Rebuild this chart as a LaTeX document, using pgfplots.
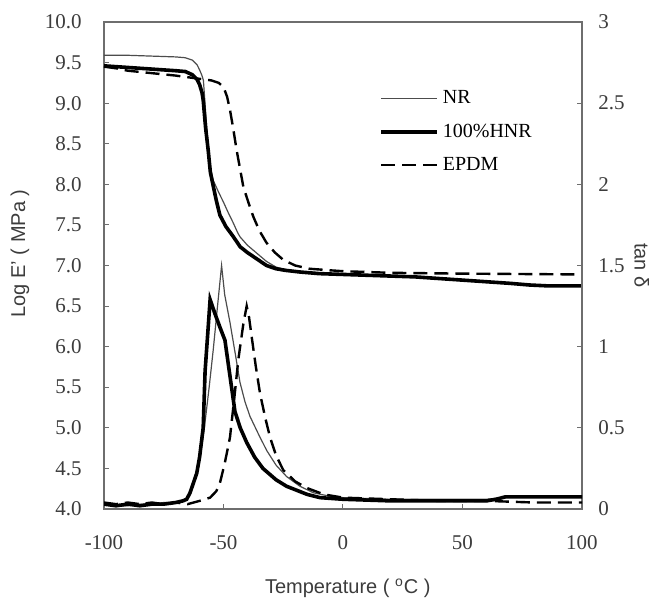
\documentclass[border=0pt]{standalone}
\usepackage{fontspec}
\setmainfont{Liberation Serif}
\setsansfont{Liberation Sans}
\usepackage{pgfplots}
\pgfplotsset{compat=1.18}
\definecolor{axgray}{RGB}{110,110,110}
\definecolor{lblgray}{RGB}{60,60,60}
\begin{document}
\begin{tikzpicture}
\useasboundingbox (-52pt,-46pt) rectangle (275pt,254.5pt);
\pgfplotsset{
  base/.style={
    scale only axis, width=239pt, height=243.5pt,
    at={(0,0)}, anchor=south west,
    xmin=-100, xmax=100,
    axis line style={axgray, line width=0.6pt},
    tick style={axgray, line width=0.5pt},
    major tick length=2.5pt,
    tick align=inside,
    /pgf/number format/assume math mode=true,
    tick label style={font=\fontsize{10.5}{12}\selectfont, text=lblgray, inner sep=0pt},
  }
}
\begin{axis}[base,
  ymin=4, ymax=10,
  ytick={4,4.5,...,10},
  xtick={-100,-50,0,50,100},
  xtick pos=bottom, ytick pos=left,
  yticklabel style={/pgf/number format/fixed, /pgf/number format/fixed zerofill, /pgf/number format/precision=1, xshift=-11pt},
  xticklabel style={yshift=-13pt},
  xlabel={\sffamily Temperature ( \textsuperscript{o}C )},
  xlabel style={at={(axis description cs:0.51,0)}, anchor=center, yshift=-39.5pt, font=\fontsize{10}{12}\selectfont, text=lblgray},
  ylabel={\sffamily Log E' ( MPa )},
  ylabel style={at={(axis description cs:-0.176,0.525)}, anchor=center, font=\fontsize{10}{12}\selectfont, text=lblgray},
  legend style={at={(0.575,0.868)}, anchor=north west, draw=none, fill=none,
    font=\fontsize{10}{12}\selectfont, row sep=4.5pt, inner sep=0pt,
    legend cell align=left},
  legend image code/.code={\draw[#1] (0pt,0pt) -- (28pt,0pt);},
]
\addplot[black!70, line width=0.6pt] coordinates {
(-100,9.59) (-90,9.59) (-80,9.58) (-70,9.57) (-66,9.56) (-63,9.53) (-61,9.47) (-60,9.41) (-59,9.34) (-58.4,9.28) (-57.5,8.9) (-56.5,8.5) (-55.6,8.22) (-54.3,8.05) (-52,7.9) (-50,7.78) (-48,7.65) (-46,7.53) (-44,7.40) (-43,7.35) (-40,7.25) (-36,7.15) (-32,7.05) (-28,6.98) (-24,6.95) (-20,6.93) (-10,6.91) (0,6.89) (10,6.88) (20,6.87) (30,6.86) (40,6.84) (50,6.82) (60,6.80) (70,6.78) (80,6.76) (90,6.75) (100,6.75)
};
\addlegendentry{NR}
\addplot[black, line width=1.8pt] coordinates {
(-100,9.46) (-90,9.44) (-80,9.42) (-70,9.40) (-66,9.39) (-63,9.35) (-61,9.29) (-60,9.23) (-59,9.13) (-58.5,9.04) (-57.5,8.7) (-56.4,8.42) (-55.5,8.15) (-54.3,7.98) (-53,7.8) (-51.5,7.62) (-49,7.48) (-46,7.36) (-43,7.23) (-40,7.16) (-36,7.08) (-32,7.0) (-28,6.96) (-24,6.94) (-18,6.92) (-10,6.90) (0,6.89) (10,6.88) (20,6.87) (30,6.86) (40,6.84) (50,6.82) (60,6.80) (70,6.78) (78,6.76) (85,6.75) (100,6.75)
};
\addlegendentry{100\%HNR}
\addplot[black, line width=1.2pt, dash pattern=on 7pt off 3.5pt] coordinates {
(-100,9.45) (-95,9.43) (-90,9.40) (-80,9.37) (-70,9.34) (-60,9.30) (-55,9.28) (-52,9.25) (-50,9.20) (-48.5,9.08) (-47.3,8.92) (-46,8.7) (-44.5,8.42) (-43,8.18) (-41.7,7.97) (-39.5,7.77) (-37.5,7.6) (-35,7.43) (-32,7.28) (-28.5,7.16) (-25,7.07) (-20,7.0) (-14,6.96) (-5,6.94) (0,6.93) (20,6.91) (50,6.9) (100,6.89)
};
\addlegendentry{EPDM}
\end{axis}
\begin{axis}[base,
  ymin=0, ymax=3,
  ytick={0,0.5,...,3},
  axis x line=none,
  axis y line*=right,
  yticklabel style={xshift=8pt},
  ylabel={\sffamily tan δ},
  ylabel style={at={(axis description cs:1.125,0.5)}, anchor=center, rotate=180, font=\fontsize{10}{12}\selectfont, text=lblgray},
]
\addplot[black!70, line width=0.6pt] coordinates {
(-100,0.03) (-95,0.02) (-90,0.02) (-85,0.03) (-80,0.03) (-75,0.04) (-70,0.04) (-67,0.05) (-65,0.07) (-63.5,0.11) (-62.6,0.15) (-61,0.24) (-60,0.30) (-58,0.5) (-56,0.75) (-54.3,0.98) (-52.5,1.25) (-50.8,1.50) (-49.5,1.32) (-47.3,1.15) (-45,0.95) (-43.1,0.78) (-41,0.66) (-38.9,0.57) (-35,0.45) (-31.9,0.36) (-28,0.27) (-23.6,0.2) (-18,0.14) (-12.4,0.1) (-6,0.08) (0,0.07) (20,0.06) (40,0.06) (60,0.06) (67,0.07) (72,0.08) (100,0.08)
};
\addplot[black, line width=1.8pt] coordinates {
(-100,0.03) (-95,0.02) (-90,0.03) (-85,0.02) (-80,0.03) (-75,0.03) (-70,0.04) (-67,0.05) (-65.4,0.06) (-64,0.10) (-62.6,0.16) (-61.2,0.22) (-60,0.32) (-58.5,0.5) (-57.7,0.85) (-56.5,1.1) (-55.6,1.29) (-53.5,1.2) (-51.5,1.12) (-49.4,1.04) (-47.3,0.82) (-45.2,0.60) (-43,0.50) (-40.3,0.41) (-37,0.32) (-33.5,0.25) (-28,0.18) (-23.6,0.14) (-15,0.09) (-9.6,0.07) (0,0.06) (20,0.05) (40,0.05) (60,0.05) (64,0.06) (68,0.075) (100,0.075)
};
\addplot[black, line width=1.2pt, dash pattern=on 7pt off 3.5pt] coordinates {
(-100,0.04) (-95,0.03) (-90,0.04) (-85,0.03) (-80,0.04) (-75,0.03) (-70,0.04) (-65,0.03) (-60,0.05) (-55.6,0.07) (-53,0.11) (-51.5,0.16) (-49.5,0.28) (-47.3,0.44) (-45.5,0.68) (-43.8,0.92) (-41.7,1.14) (-40.3,1.25) (-39.3,1.18) (-38.2,1.06) (-36.5,0.88) (-34.7,0.71) (-32.5,0.56) (-30.5,0.44) (-28,0.33) (-25,0.24) (-20,0.17) (-15.2,0.13) (-8,0.09) (0,0.07) (20,0.06) (40,0.05) (60,0.05) (80,0.04) (100,0.04)
};
\end{axis}
\end{tikzpicture}
\end{document}
